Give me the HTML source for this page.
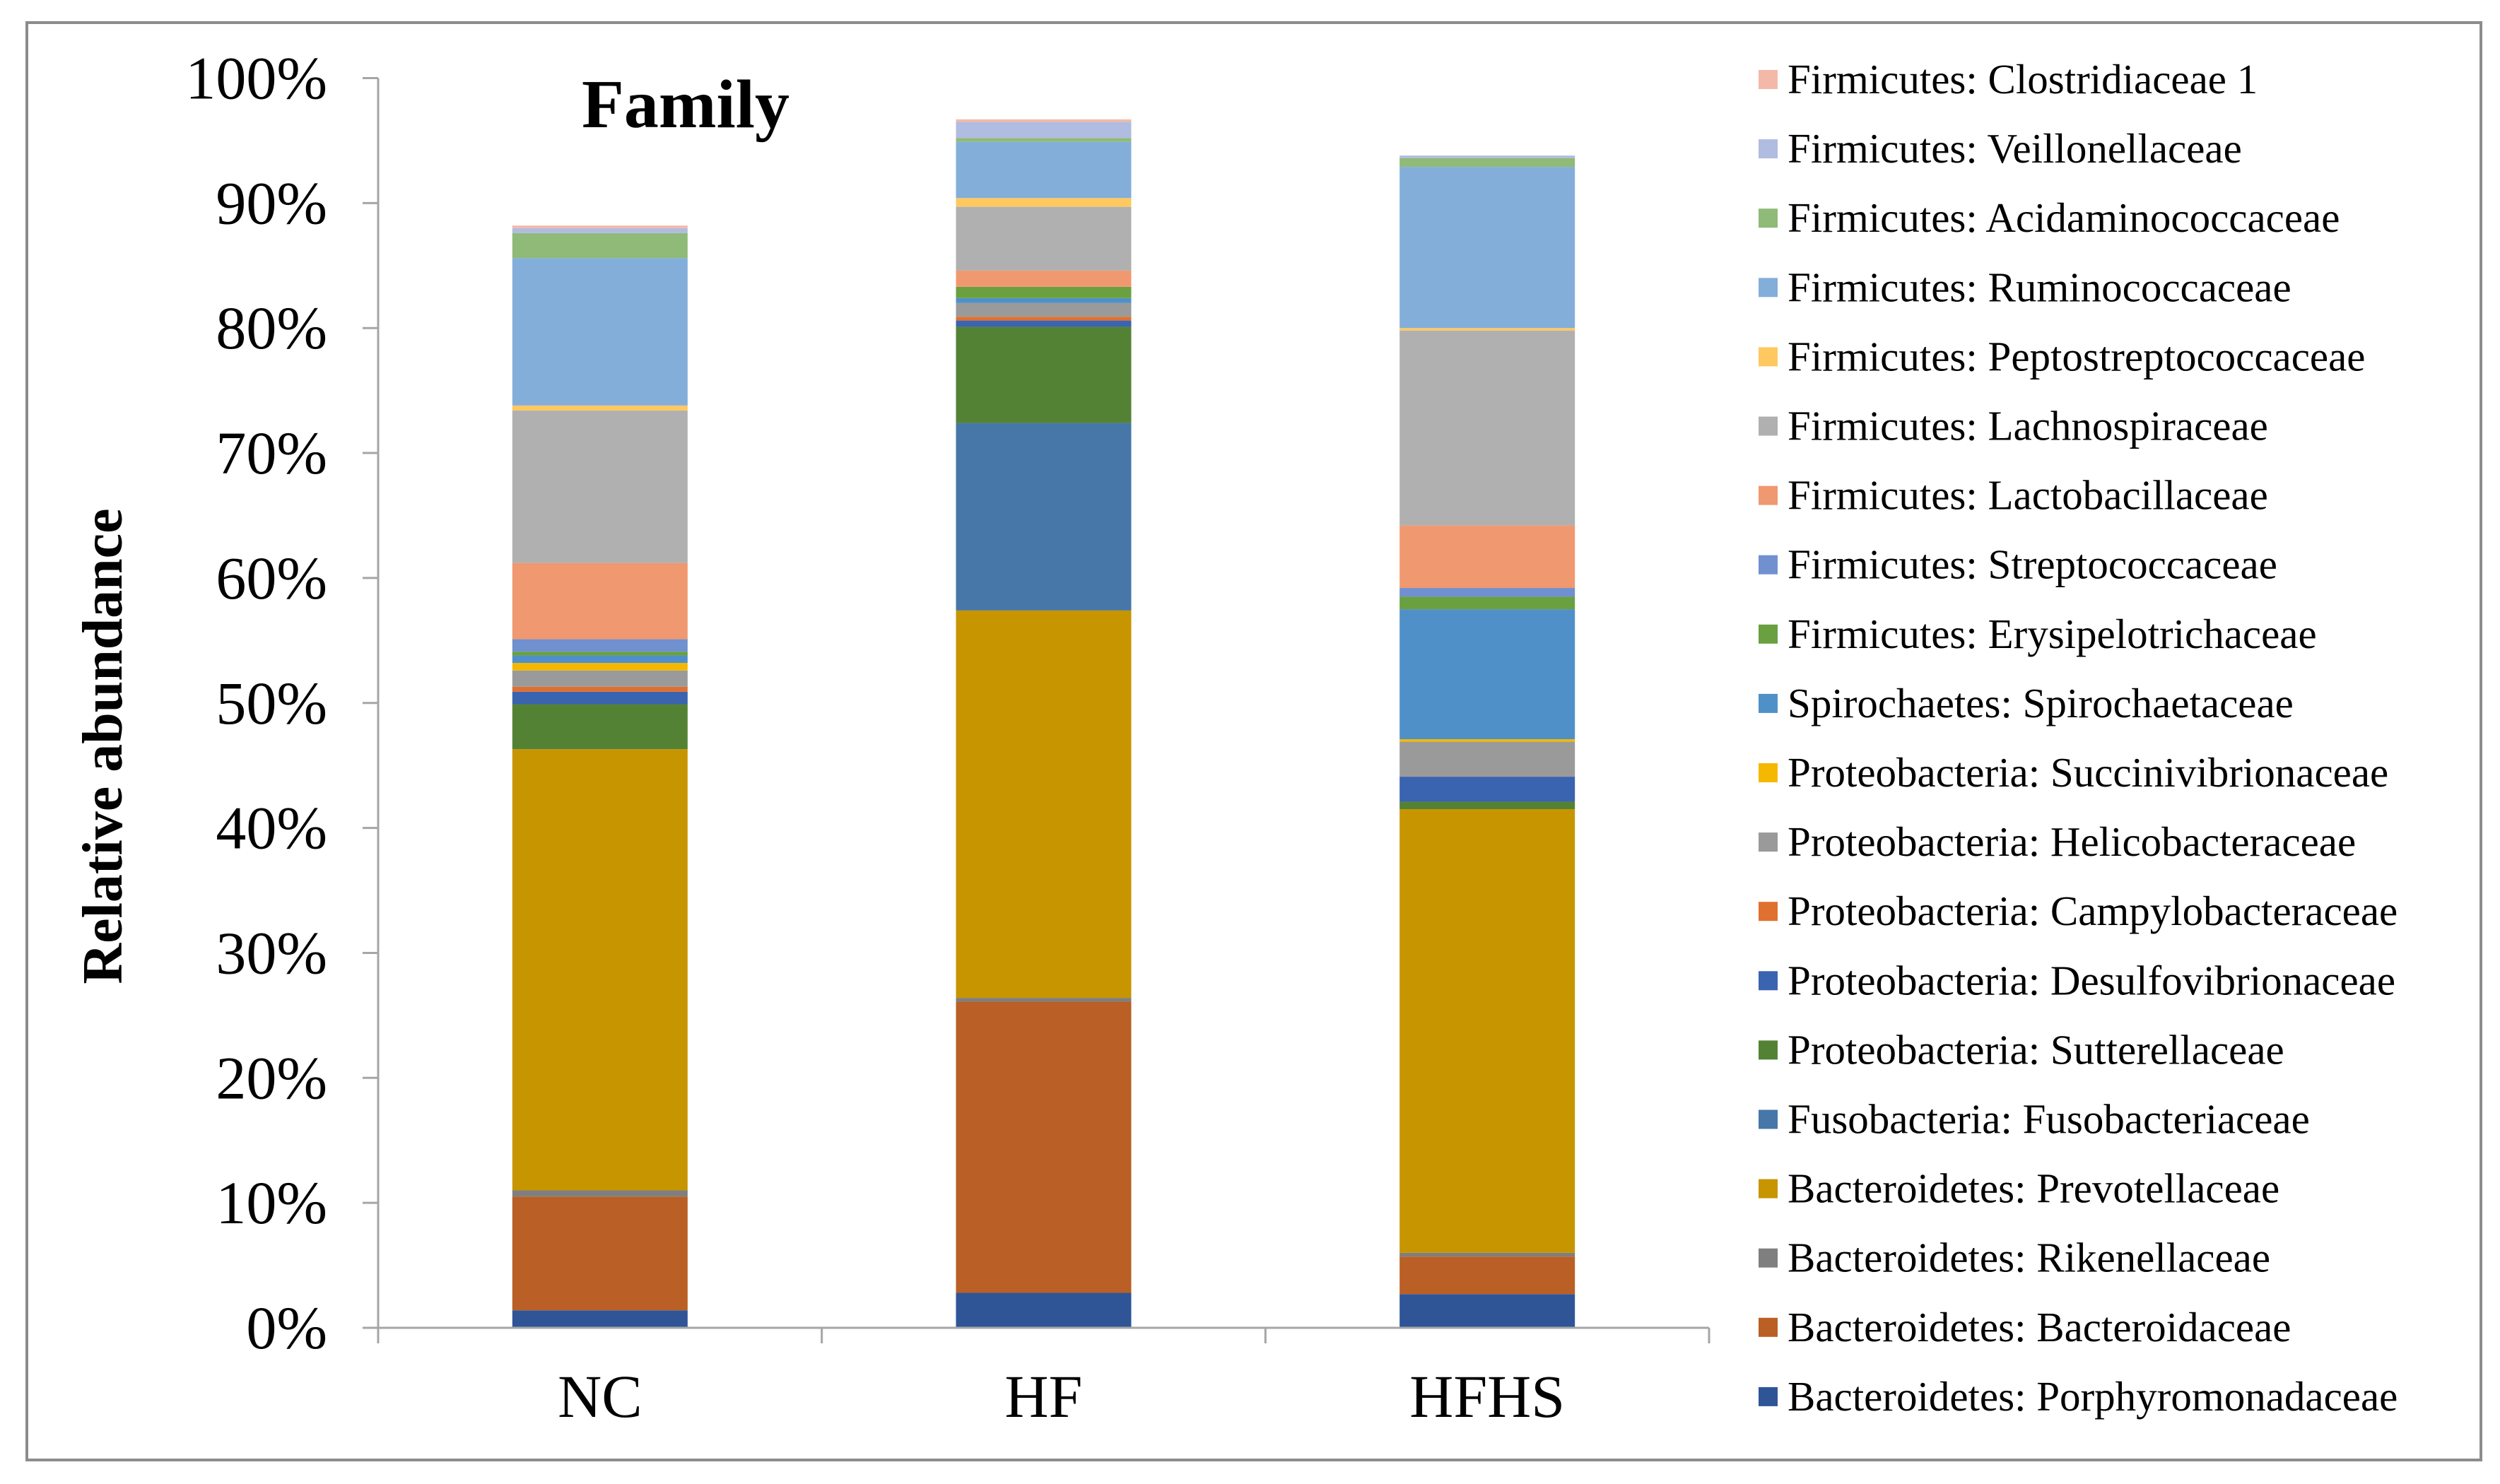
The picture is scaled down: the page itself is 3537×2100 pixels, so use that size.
<!DOCTYPE html>
<html><head><meta charset="utf-8">
<style>
html,body{margin:0;padding:0;background:#fff;}
svg{display:block;}
text{font-family:"Liberation Serif",serif;}
</style></head>
<body>
<svg id="chart" width="3537" height="2100" viewBox="0 0 3537 2100" xmlns="http://www.w3.org/2000/svg">
<rect x="38" y="32" width="3472" height="2034" fill="#fff" stroke="#8c8c8c" stroke-width="4"/>
<g id="grid"></g>
<g id="bars"></g>
<g id="axes"></g>
<g id="legend"></g>
<text x="970" y="180" font-size="98" font-weight="bold" text-anchor="middle">Family</text>
<text transform="translate(172,1056) rotate(-90)" font-size="80" font-weight="bold" text-anchor="middle">Relative abundance</text>
</svg>
<script>
const categories = ["NC","HF","HFHS"];
const seriesNames = ["Bacteroidetes: Porphyromonadaceae","Bacteroidetes: Bacteroidaceae","Bacteroidetes: Rikenellaceae","Bacteroidetes: Prevotellaceae","Fusobacteria: Fusobacteriaceae","Proteobacteria: Sutterellaceae","Proteobacteria: Desulfovibrionaceae","Proteobacteria: Campylobacteraceae","Proteobacteria: Helicobacteraceae","Proteobacteria: Succinivibrionaceae","Spirochaetes: Spirochaetaceae","Firmicutes: Erysipelotrichaceae","Firmicutes: Streptococcaceae","Firmicutes: Lactobacillaceae","Firmicutes: Lachnospiraceae","Firmicutes: Peptostreptococcaceae","Firmicutes: Ruminococcaceae","Firmicutes: Acidaminococcaceae","Firmicutes: Veillonellaceae","Firmicutes: Clostridiaceae 1"];
const seriesColors = ["#2F5597","#BA5F25","#7F7F7F","#C79500","#4677A8","#548235","#3A63B0","#E07030","#9A9A9A","#F5B800","#5090C8","#6AA040","#7090D0","#F09870","#B0B0B0","#FFC860","#84AEDA","#90BA78","#B0BCE0","#F4B8A8"];
const valuesNC   = [1.4, 9.1, 0.5, 35.3, 0, 3.6, 1.0, 0.4, 1.3, 0.6, 0.6, 0.3, 1.0, 6.1, 12.2, 0.4, 11.8, 2.0, 0.4, 0.2];
const valuesHF   = [2.8, 23.3, 0.3, 31.0, 15.0, 7.7, 0.5, 0.3, 1.1, 0, 0.4, 0.9, 0, 1.3, 5.1, 0.7, 4.5, 0.3, 1.3, 0.2];
const valuesHFHS = [2.7, 3.0, 0.3, 35.5, 0, 0.6, 2.0, 0, 2.8, 0.2, 10.4, 1.0, 0.7, 5.0, 15.6, 0.2, 12.9, 0.7, 0.2, 0];
const yTicks = [0,10,20,30,40,50,60,70,80,90,100];
const yTickLabels = ["0%","10%","20%","30%","40%","50%","60%","70%","80%","90%","100%"];

const NS = "http://www.w3.org/2000/svg";
const plotLeft = 535, plotRight = 2418, y0 = 1879, y100 = 110.5;
const yScale = v => y0 - (y0 - y100) * v / 100;
const bandW = (plotRight - plotLeft) / categories.length;
const xCenter = i => plotLeft + bandW * (i + 0.5);
const barW = 248;
function mk(tag, attrs, parent){const e=document.createElementNS(NS,tag);for(const k in attrs)e.setAttribute(k,attrs[k]);parent.appendChild(e);return e;}

const bars = document.getElementById('bars');
const allValues = [valuesNC, valuesHF, valuesHFHS];
allValues.forEach((vals, ci) => {
  let cum = 0;
  vals.forEach((v, si) => {
    if (v <= 0) { return; }
    const top = yScale(cum + v), bot = yScale(cum);
    const r = mk('rect', {x: xCenter(ci) - barW/2, y: top, width: barW, height: bot - top, fill: seriesColors[si]}, bars);
    
    
    cum += v;
  });
});

const axes = document.getElementById('axes');
const yAxis = mk('line', {x1: plotLeft, y1: y100, x2: plotLeft, y2: y0, stroke: '#A6A6A6', 'stroke-width': 3}, axes);


const xAxis = mk('line', {x1: plotLeft, y1: y0, x2: plotRight, y2: y0, stroke: '#A6A6A6', 'stroke-width': 3}, axes);


yTicks.forEach((t, i) => {
  const y = yScale(t);
  const tk = mk('line', {x1: plotLeft - 22, y1: y, x2: plotLeft, y2: y, stroke: '#A6A6A6', 'stroke-width': 3}, axes);
  
  
  const tx = mk('text', {x: 463, y: y + 29, 'font-size': 86, 'text-anchor': 'end'}, axes);
  tx.textContent = yTickLabels[i];
  
  
});
for (let i = 0; i <= categories.length; i++) {
  const x = plotLeft + bandW * i;
  const tk = mk('line', {x1: x, y1: y0, x2: x, y2: y0 + 22, stroke: '#A6A6A6', 'stroke-width': 3}, axes);
  
  
}
categories.forEach((c, i) => {
  const tx = mk('text', {x: xCenter(i), y: 2005, 'font-size': 86, 'text-anchor': 'middle'}, axes);
  tx.textContent = c;
  
  
});

const legend = document.getElementById('legend');
const legTop = 113, legStep = 98.1;
for (let k = 0; k < seriesNames.length; k++) {
  const si = seriesNames.length - 1 - k;
  const y = legTop + legStep * k;
  const g = mk('g', {}, legend);
  
  
  const sw = mk('rect', {x: 2488, y: y - 14, width: 27, height: 27, fill: seriesColors[si]}, g);
  
  
  const tx = mk('text', {x: 2529, y: y + 19, 'font-size': 59}, g);
  tx.textContent = seriesNames[si];
  
  
}
</script>
</body></html>
